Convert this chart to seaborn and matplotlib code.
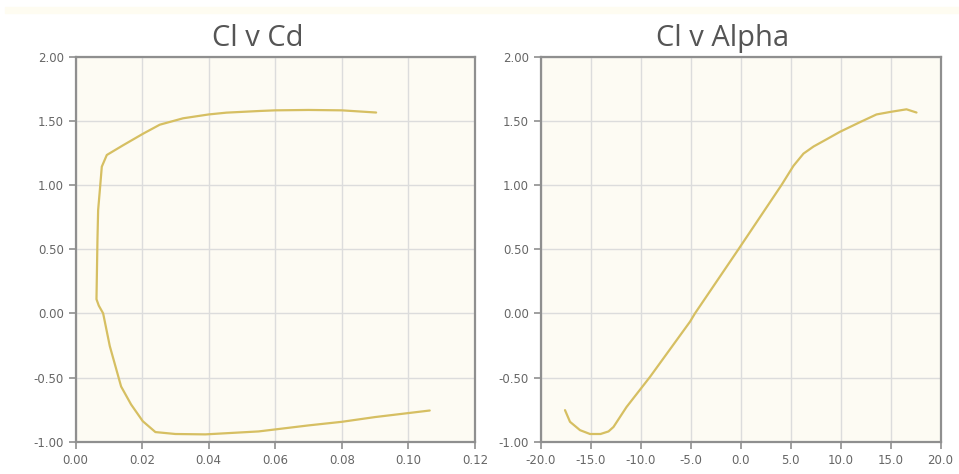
import numpy as np
import pandas as pd
import matplotlib
matplotlib.use("Agg")
import matplotlib.pyplot as plt
import matplotlib.patheffects as pe
from matplotlib.patches import Rectangle
from matplotlib.ticker import FormatStrFormatter, MultipleLocator
import seaborn as sns

# ── data ─────────────────────────────────────────────────────────────────
# Cl v Cd, traced along the polar from the upper-branch end to the lower one
cd_vals = [0.0903, 0.080, 0.070, 0.060, 0.0553, 0.0453, 0.040, 0.0323,
           0.0253, 0.0203, 0.0143, 0.0094, 0.0079, 0.0074, 0.0068, 0.0066,
           0.0063, 0.0070, 0.0083, 0.0103, 0.0137, 0.0167, 0.0202, 0.0240,
           0.0300, 0.0390, 0.0550, 0.0700, 0.0800, 0.0900, 0.1064]
cl_cd_vals = [1.565, 1.582, 1.585, 1.582, 1.577, 1.564, 1.550, 1.520,
              1.470, 1.400, 1.310, 1.234, 1.143, 0.987, 0.805, 0.580,
              0.110, 0.060, 0.000, -0.255, -0.570, -0.710, -0.840, -0.925,
              -0.940, -0.943, -0.920, -0.873, -0.845, -0.808, -0.757]

# Cl v Alpha
alpha_vals = [-17.55, -17.05, -16.05, -15.05, -14.0, -13.2, -12.7, -11.4,
              -10.1, -9.05, -5.05, -4.55, -0.2, 4.1, 5.3, 6.3, 7.3, 8.6,
              9.95, 11.95, 13.6, 15.0, 16.6, 17.6]
cl_alpha_vals = [-0.754, -0.845, -0.910, -0.940, -0.940, -0.920, -0.885,
                 -0.730, -0.600, -0.495, -0.065, 0.000, 0.500, 1.000, 1.150,
                 1.245, 1.300, 1.356, 1.415, 1.490, 1.550, 1.570, 1.590, 1.565]

y_ticks = [-1.0, -0.5, 0.0, 0.5, 1.0, 1.5, 2.0]

LINE_COLOR = "#d6bf62"
FACE_COLOR = "#fdfbf3"
FRAME_COLOR = "#8f8f8f"
GRID_COLOR = "#dcdcdc"
TEXT_COLOR = "#666666"
TITLE_COLOR = "#555555"

sns.set_style("white")
plt.rcParams.update({
    "font.family": ["DejaVu Sans"],
    "font.size": 8.5,
    "xtick.color": FRAME_COLOR, "ytick.color": FRAME_COLOR,
    "xtick.labelcolor": TEXT_COLOR, "ytick.labelcolor": TEXT_COLOR,
})

W, H = 959, 474
fig = plt.figure(figsize=(W / 100, H / 100), dpi=100, facecolor="white")

# faint cream band along the top edge
fig.patches.append(Rectangle((5 / W, 1 - 13 / H), 1 - 5 / W, 6 / H,
                             transform=fig.transFigure, color="#fefcf1",
                             zorder=0))


def px_axes(x0, x1, ytop, ybot):
    return fig.add_axes([x0 / W, 1 - ybot / H, (x1 - x0) / W, (ybot - ytop) / H])


ax_l = px_axes(75.5, 475, 56.7, 441.7)
ax_r = px_axes(540.5, 940.5, 56.7, 441.7)

df_l = pd.DataFrame({"Cd": cd_vals, "Cl": cl_cd_vals})
df_r = pd.DataFrame({"Alpha": alpha_vals, "Cl": cl_alpha_vals})

sns.lineplot(data=df_l, x="Cd", y="Cl", sort=False, estimator=None,
             color=LINE_COLOR, lw=1.6, ax=ax_l)
sns.lineplot(data=df_r, x="Alpha", y="Cl", sort=False, estimator=None,
             color=LINE_COLOR, lw=1.6, ax=ax_r)

ax_l.set_xlim(0, 0.12)
ax_l.xaxis.set_major_locator(MultipleLocator(0.02))
ax_l.xaxis.set_major_formatter(FormatStrFormatter("%.2f"))
ax_r.set_xlim(-20, 20)
ax_r.xaxis.set_major_locator(MultipleLocator(5))
ax_r.xaxis.set_major_formatter(FormatStrFormatter("%.1f"))

for ax, title in [(ax_l, "Cl v Cd"), (ax_r, "Cl v Alpha")]:
    ax.set_facecolor(FACE_COLOR)
    ax.set_ylim(-1.0, 2.0)
    ax.set_yticks(y_ticks)
    ax.yaxis.set_major_formatter(FormatStrFormatter("%.2f"))
    ax.grid(True, color=GRID_COLOR, lw=1.0)
    ax.set_axisbelow(True)
    ax.set_xlabel("")
    ax.set_ylabel("")
    ax.tick_params(axis="both", length=5, width=1.2, pad=3.5,
                   bottom=True, left=True, labelsize=8.5)
    for sp in ax.spines.values():
        sp.set_visible(True)
        sp.set_color(FRAME_COLOR)
        sp.set_linewidth(1.6)
        sp.set_path_effects([pe.SimplePatchShadow(offset=(1.5, -1.5),
                                                  shadow_rgbFace="#bbbbbb",
                                                  alpha=0.5),
                             pe.Normal()])
    ax.set_title(title, x=0.455, pad=8, fontsize=21, color=TITLE_COLOR,
                 family=["Open Sans", "DejaVu Sans"])

fig.savefig("out.png", dpi=100, facecolor="white")
